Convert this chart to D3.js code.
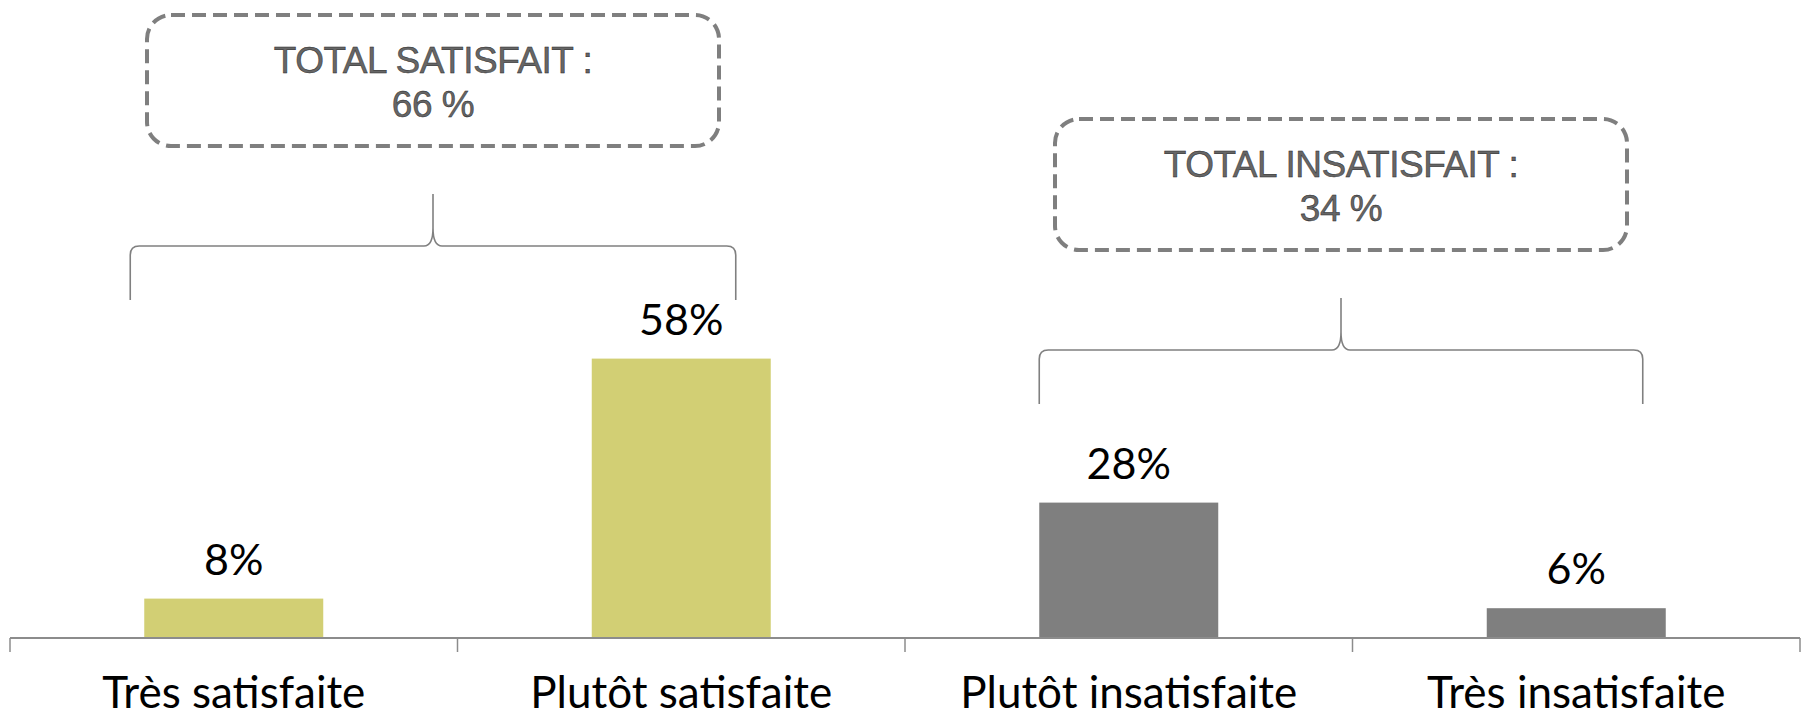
<!DOCTYPE html>
<html>
<head>
<meta charset="utf-8">
<script src="https://cdn.jsdelivr.net/npm/d3@7"></script>
<style>
  body { margin: 0; background: #fff; }
  svg { display: block; }
</style>
</head>
<body>
<div id="chart"></div>
<script>
// categories and values
var categories = ["Très satisfaite", "Plutôt satisfaite", "Plutôt insatisfaite", "Très insatisfaite"];
var values = [8, 58, 28, 6];
var barColors = ["#D2CF74", "#D2CF74", "#7F7F7F", "#7F7F7F"];

// group totals shown in the dashed boxes
var groupTitles = ["TOTAL SATISFAIT :", "TOTAL INSATISFAIT :"];
var groupTotals = ["66 %", "34 %"];
var groupMembers = [[0, 1], [2, 3]];

var width = 1812, height = 719;
var baseY = 637;

var svg = d3.select("#chart").append("svg")
    .attr("width", width)
    .attr("height", height);

var x = d3.scaleBand()
    .domain(categories)
    .range([10, 1800])
    .paddingInner(0.6)
    .paddingOuter(0.3);

var y = d3.scaleLinear()
    .domain([0, 100])
    .range([baseY, baseY - 480]);

// bars
svg.selectAll("rect.bar")
    .data(values)
    .enter().append("rect")
    .attr("class", "bar")
    .attr("x", function (d, i) { return x(categories[i]); })
    .attr("y", function (d) { return y(d); })
    .attr("width", x.bandwidth())
    .attr("height", function (d) { return y(0) - y(d); })
    .attr("fill", function (d, i) { return barColors[i]; });

// value labels
svg.selectAll("text.val")
    .data(values)
    .enter().append("text")
    .attr("class", "val")
    .attr("x", function (d, i) { return x(categories[i]) + x.bandwidth() / 2; })
    .attr("y", function (d) { return y(d) - 24; })
    .attr("text-anchor", "middle")
    .style("font-family", "Lato, 'Open Sans', sans-serif")
    .style("font-size", "43px")
    .attr("fill", "#000")
    .text(function (d) { return d + "%"; });

// category axis, ticks between categories
var step = x.step();
var edges = d3.range(categories.length + 1).map(function (i) {
    return x(categories[0]) - (step - x.bandwidth()) / 2 + i * step;
});
var axisG = svg.append("g");
axisG.append("line")
    .attr("x1", edges[0]).attr("x2", edges[edges.length - 1])
    .attr("y1", baseY + 1).attr("y2", baseY + 1)
    .attr("stroke", "#8C8C8C").attr("stroke-width", 2);
axisG.selectAll("line.tick")
    .data(edges)
    .enter().append("line")
    .attr("class", "tick")
    .attr("x1", function (d) { return d; }).attr("x2", function (d) { return d; })
    .attr("y1", baseY + 1).attr("y2", baseY + 15)
    .attr("stroke", "#8C8C8C").attr("stroke-width", 1.5);
axisG.selectAll("text")
    .data(categories)
    .enter().append("text")
    .attr("x", function (d) { return x(d) + x.bandwidth() / 2; })
    .attr("y", 708)
    .attr("text-anchor", "middle")
    .style("font-family", "Lato, 'Open Sans', sans-serif")
    .style("font-size", "44px")
    .attr("fill", "#000")
    .text(function (d) { return d; });

// braces and dashed total boxes
var braceBottoms = [300, 404];
var braceInsets = [[-14, -35], [0, -23]];
groupMembers.forEach(function (m, gi) {
    var x0 = x(categories[m[0]]) + braceInsets[gi][0];
    var x1 = x(categories[m[1]]) + x.bandwidth() + braceInsets[gi][1];
    var xm = (x0 + x1) / 2;
    var yb = braceBottoms[gi];
    var yh = yb - 54;
    var yp = yb - 106;
    var r = 9;
    var p = d3.path();
    p.moveTo(x0, yb);
    p.lineTo(x0, yh + r);
    p.quadraticCurveTo(x0, yh, x0 + r, yh);
    p.lineTo(xm - r, yh);
    p.quadraticCurveTo(xm, yh, xm, yh - r * 2);
    p.lineTo(xm, yp);
    p.moveTo(xm, yh - r * 2);
    p.quadraticCurveTo(xm, yh, xm + r, yh);
    p.lineTo(x1 - r, yh);
    p.quadraticCurveTo(x1, yh, x1, yh + r);
    p.lineTo(x1, yb);
    svg.append("path")
        .attr("d", p.toString())
        .attr("fill", "none")
        .attr("stroke", "#808080")
        .attr("stroke-width", 1.6);

    var bw = 572, bh = 131;
    var by = yb - 285;
    svg.append("rect")
        .attr("x", xm - bw / 2).attr("y", by)
        .attr("width", bw).attr("height", bh)
        .attr("rx", 24).attr("ry", 24)
        .attr("fill", "none")
        .attr("stroke", "#7F7F7F")
        .attr("stroke-width", 4)
        .attr("stroke-dasharray", "14,7");
    var t = svg.append("text")
        .attr("text-anchor", "middle")
        .style("font-family", "'Liberation Sans', Arial, sans-serif")
        .style("font-size", "37px")
        .style("letter-spacing", "-0.5px")
        .attr("fill", "#666")
        .attr("stroke", "#222")
        .attr("stroke-width", 0.45);
    t.append("tspan").attr("x", xm).attr("y", by + 58).text(groupTitles[gi]);
    t.append("tspan").attr("x", xm).attr("y", by + 102).text(groupTotals[gi]);
});
</script>
</body>
</html>
